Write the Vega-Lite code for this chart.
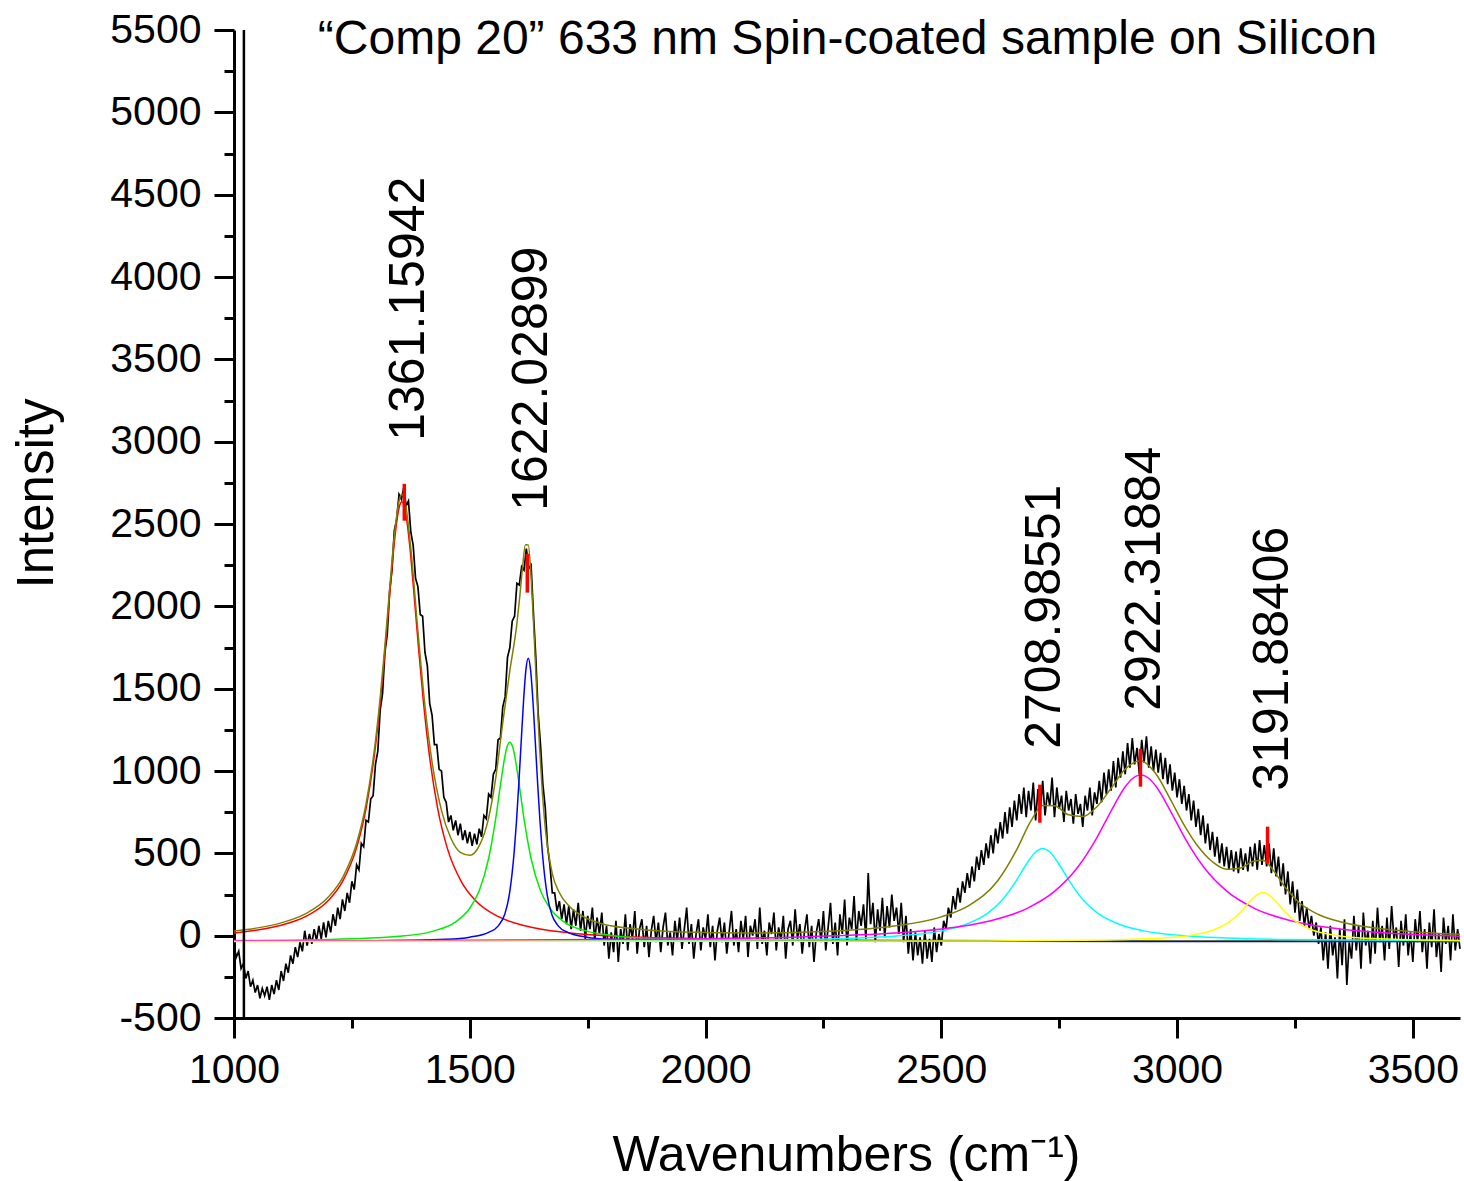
{
"$schema": "https://vega.github.io/schema/vega-lite/v6.json",
"width": 1226, "height": 988,
"autosize": {"type": "none"},
"padding": {"left": 234, "top": 30, "right": 4, "bottom": 163},
"background": "white",
"config": {"view": {"stroke": null}, "axis": {"domainColor": "black", "tickColor": "black", "labelColor": "black", "titleColor": "black", "grid": false, "labelFont": "Liberation Sans", "titleFont": "Liberation Sans", "titleFontWeight": "normal"}},
"data": {"values": [{"d": 0}]},
"datasets": {
"spec": [
{"x":1000,"y":-60},{"x":1005,"y":-130},{"x":1010,"y":-95},{"x":1015,"y":-200},{"x":1020,"y":-170},{"x":1025,"y":-260},{"x":1030,"y":-215},{"x":1035,"y":-310},{"x":1040,"y":-270},{"x":1045,"y":-345},{"x":1050,"y":-300},{"x":1055,"y":-380},{"x":1060,"y":-320},{"x":1065,"y":-365},{"x":1070,"y":-310},{"x":1075,"y":-390},{"x":1080,"y":-300},{"x":1085,"y":-355},{"x":1090,"y":-270},{"x":1095,"y":-330},
{"x":1100,"y":-215},{"x":1105,"y":-275},{"x":1110,"y":-170},{"x":1115,"y":-225},{"x":1120,"y":-120},{"x":1125,"y":-170},{"x":1130,"y":-70},{"x":1135,"y":-130},{"x":1140,"y":-40},{"x":1145,"y":-95},{"x":1150,"y":30},{"x":1155,"y":-60},{"x":1160,"y":10},{"x":1165,"y":-50},{"x":1170,"y":40},{"x":1175,"y":-30},{"x":1180,"y":60},{"x":1185,"y":-20},{"x":1190,"y":80},{"x":1195,"y":-10},
{"x":1200,"y":90},{"x":1205,"y":20},{"x":1210,"y":130},{"x":1215,"y":60},{"x":1220,"y":170},{"x":1225,"y":100},{"x":1230,"y":220},{"x":1235,"y":150},{"x":1240,"y":260},{"x":1245,"y":200},{"x":1250,"y":330},{"x":1255,"y":280},{"x":1260,"y":430},{"x":1265,"y":400},{"x":1270,"y":560},{"x":1275,"y":540},{"x":1280,"y":700},{"x":1285,"y":690},{"x":1290,"y":830},{"x":1295,"y":850},
{"x":1300,"y":1040},{"x":1305,"y":1120},{"x":1310,"y":1370},{"x":1315,"y":1470},{"x":1320,"y":1720},{"x":1325,"y":1830},{"x":1330,"y":2090},{"x":1335,"y":2220},{"x":1340,"y":2460},{"x":1345,"y":2530},{"x":1350,"y":2680},{"x":1355,"y":2650},{"x":1360,"y":2720},{"x":1365,"y":2610},{"x":1370,"y":2640},{"x":1375,"y":2450},{"x":1380,"y":2370},{"x":1385,"y":2170},{"x":1390,"y":2120},{"x":1395,"y":1950},
{"x":1400,"y":1940},{"x":1405,"y":1720},{"x":1410,"y":1640},{"x":1415,"y":1410},{"x":1420,"y":1340},{"x":1425,"y":1160},{"x":1430,"y":1160},{"x":1435,"y":1010},{"x":1440,"y":1000},{"x":1445,"y":840},{"x":1450,"y":810},{"x":1455,"y":690},{"x":1460,"y":730},{"x":1465,"y":640},{"x":1470,"y":700},{"x":1475,"y":610},{"x":1480,"y":680},{"x":1485,"y":580},{"x":1490,"y":640},{"x":1495,"y":560},
{"x":1500,"y":630},{"x":1505,"y":545},{"x":1510,"y":620},{"x":1515,"y":555},{"x":1520,"y":650},{"x":1525,"y":600},{"x":1530,"y":730},{"x":1535,"y":710},{"x":1540,"y":860},{"x":1545,"y":840},{"x":1550,"y":980},{"x":1555,"y":1010},{"x":1560,"y":1190},{"x":1565,"y":1200},{"x":1570,"y":1390},{"x":1575,"y":1450},{"x":1580,"y":1690},{"x":1585,"y":1750},{"x":1590,"y":1910},{"x":1595,"y":1940},
{"x":1600,"y":2140},{"x":1605,"y":2130},{"x":1610,"y":2240},{"x":1615,"y":2220},{"x":1620,"y":2350},{"x":1625,"y":2230},{"x":1630,"y":2250},{"x":1635,"y":1960},{"x":1640,"y":1690},{"x":1645,"y":1350},{"x":1650,"y":1160},{"x":1655,"y":920},{"x":1660,"y":780},{"x":1665,"y":540},{"x":1670,"y":430},{"x":1675,"y":260},{"x":1680,"y":260},{"x":1685,"y":150},{"x":1690,"y":210},{"x":1695,"y":100},
{"x":1700,"y":190},{"x":1705,"y":70},{"x":1710,"y":180},{"x":1715,"y":40},{"x":1720,"y":160},{"x":1725,"y":60},{"x":1730,"y":200},{"x":1735,"y":30},{"x":1740,"y":150},{"x":1745,"y":-20},{"x":1750,"y":120},{"x":1755,"y":40},{"x":1760,"y":170},{"x":1765,"y":-30},{"x":1770,"y":110},{"x":1775,"y":10},{"x":1780,"y":140},{"x":1785,"y":-60},{"x":1790,"y":60},{"x":1795,"y":-140},
{"x":1800,"y":20},{"x":1805,"y":-100},{"x":1810,"y":90},{"x":1815,"y":-160},{"x":1820,"y":40},{"x":1825,"y":-50},{"x":1830,"y":130},{"x":1835,"y":-90},{"x":1840,"y":70},{"x":1845,"y":-20},{"x":1850,"y":150},{"x":1855,"y":-110},{"x":1860,"y":40},{"x":1865,"y":100},{"x":1870,"y":-70},{"x":1875,"y":60},{"x":1880,"y":-130},{"x":1885,"y":30},{"x":1890,"y":120},{"x":1895,"y":-40},
{"x":1900,"y":80},{"x":1905,"y":-100},{"x":1910,"y":50},{"x":1915,"y":140},{"x":1920,"y":-60},{"x":1925,"y":20},{"x":1930,"y":-120},{"x":1935,"y":90},{"x":1940,"y":-30},{"x":1945,"y":110},{"x":1950,"y":-80},{"x":1955,"y":40},{"x":1960,"y":170},{"x":1965,"y":-50},{"x":1970,"y":70},{"x":1975,"y":-140},{"x":1980,"y":10},{"x":1985,"y":100},{"x":1990,"y":-90},{"x":1995,"y":50},
{"x":2000,"y":-20},{"x":2005,"y":130},{"x":2010,"y":-70},{"x":2015,"y":60},{"x":2020,"y":-150},{"x":2025,"y":30},{"x":2030,"y":110},{"x":2035,"y":-40},{"x":2040,"y":80},{"x":2045,"y":-110},{"x":2050,"y":20},{"x":2055,"y":150},{"x":2060,"y":-60},{"x":2065,"y":40},{"x":2070,"y":-100},{"x":2075,"y":90},{"x":2080,"y":-20},{"x":2085,"y":120},{"x":2090,"y":-130},{"x":2095,"y":60},
{"x":2100,"y":0},{"x":2105,"y":100},{"x":2110,"y":-80},{"x":2115,"y":170},{"x":2120,"y":-50},{"x":2125,"y":30},{"x":2130,"y":-120},{"x":2135,"y":80},{"x":2140,"y":10},{"x":2145,"y":140},{"x":2150,"y":-90},{"x":2155,"y":50},{"x":2160,"y":-30},{"x":2165,"y":120},{"x":2170,"y":-140},{"x":2175,"y":40},{"x":2180,"y":90},{"x":2185,"y":-60},{"x":2190,"y":160},{"x":2195,"y":-20},
{"x":2200,"y":70},{"x":2205,"y":-110},{"x":2210,"y":30},{"x":2215,"y":130},{"x":2220,"y":-70},{"x":2225,"y":60},{"x":2230,"y":-160},{"x":2235,"y":20},{"x":2240,"y":100},{"x":2245,"y":-40},{"x":2250,"y":150},{"x":2255,"y":-90},{"x":2260,"y":50},{"x":2265,"y":200},{"x":2270,"y":-50},{"x":2275,"y":80},{"x":2280,"y":-120},{"x":2285,"y":130},{"x":2290,"y":10},{"x":2295,"y":220},
{"x":2300,"y":-60},{"x":2305,"y":110},{"x":2310,"y":40},{"x":2315,"y":240},{"x":2320,"y":-30},{"x":2325,"y":150},{"x":2330,"y":60},{"x":2335,"y":190},{"x":2340,"y":-20},{"x":2345,"y":380},{"x":2350,"y":70},{"x":2355,"y":200},{"x":2360,"y":-40},{"x":2365,"y":160},{"x":2370,"y":30},{"x":2375,"y":230},{"x":2380,"y":-10},{"x":2385,"y":180},{"x":2390,"y":50},{"x":2395,"y":250},
{"x":2400,"y":90},{"x":2405,"y":170},{"x":2410,"y":10},{"x":2415,"y":200},{"x":2420,"y":-40},{"x":2425,"y":120},{"x":2430,"y":-110},{"x":2435,"y":40},{"x":2440,"y":-150},{"x":2445,"y":20},{"x":2450,"y":-120},{"x":2455,"y":-10},{"x":2460,"y":-170},{"x":2465,"y":30},{"x":2470,"y":-140},{"x":2475,"y":-20},{"x":2480,"y":-160},{"x":2485,"y":50},{"x":2490,"y":-100},{"x":2495,"y":10},
{"x":2500,"y":-60},{"x":2505,"y":90},{"x":2510,"y":40},{"x":2515,"y":170},{"x":2520,"y":110},{"x":2525,"y":240},{"x":2530,"y":160},{"x":2535,"y":290},{"x":2540,"y":200},{"x":2545,"y":330},{"x":2550,"y":260},{"x":2555,"y":380},{"x":2560,"y":290},{"x":2565,"y":420},{"x":2570,"y":330},{"x":2575,"y":480},{"x":2580,"y":400},{"x":2585,"y":520},{"x":2590,"y":430},{"x":2595,"y":560},
{"x":2600,"y":470},{"x":2605,"y":610},{"x":2610,"y":500},{"x":2615,"y":650},{"x":2620,"y":560},{"x":2625,"y":690},{"x":2630,"y":590},{"x":2635,"y":750},{"x":2640,"y":620},{"x":2645,"y":780},{"x":2650,"y":660},{"x":2655,"y":820},{"x":2660,"y":700},{"x":2665,"y":860},{"x":2670,"y":740},{"x":2675,"y":900},{"x":2680,"y":720},{"x":2685,"y":880},{"x":2690,"y":760},{"x":2695,"y":930},
{"x":2700,"y":700},{"x":2705,"y":890},{"x":2710,"y":760},{"x":2715,"y":940},{"x":2720,"y":730},{"x":2725,"y":870},{"x":2730,"y":790},{"x":2735,"y":960},{"x":2740,"y":720},{"x":2745,"y":900},{"x":2750,"y":770},{"x":2755,"y":850},{"x":2760,"y":690},{"x":2765,"y":880},{"x":2770,"y":760},{"x":2775,"y":830},{"x":2780,"y":680},{"x":2785,"y":860},{"x":2790,"y":740},{"x":2795,"y":800},
{"x":2800,"y":660},{"x":2805,"y":850},{"x":2810,"y":760},{"x":2815,"y":900},{"x":2820,"y":730},{"x":2825,"y":870},{"x":2830,"y":800},{"x":2835,"y":940},{"x":2840,"y":810},{"x":2845,"y":990},{"x":2850,"y":860},{"x":2855,"y":1010},{"x":2860,"y":880},{"x":2865,"y":1060},{"x":2870,"y":900},{"x":2875,"y":1080},{"x":2880,"y":960},{"x":2885,"y":1120},{"x":2890,"y":980},{"x":2895,"y":1170},
{"x":2900,"y":1020},{"x":2905,"y":1200},{"x":2910,"y":1040},{"x":2915,"y":1140},{"x":2920,"y":980},{"x":2925,"y":1190},{"x":2930,"y":1050},{"x":2935,"y":1210},{"x":2940,"y":1020},{"x":2945,"y":1150},{"x":2950,"y":1000},{"x":2955,"y":1130},{"x":2960,"y":990},{"x":2965,"y":1110},{"x":2970,"y":950},{"x":2975,"y":1080},{"x":2980,"y":920},{"x":2985,"y":1040},{"x":2990,"y":880},{"x":2995,"y":990},
{"x":3000,"y":840},{"x":3005,"y":950},{"x":3010,"y":800},{"x":3015,"y":910},{"x":3020,"y":760},{"x":3025,"y":860},{"x":3030,"y":700},{"x":3035,"y":820},{"x":3040,"y":660},{"x":3045,"y":770},{"x":3050,"y":610},{"x":3055,"y":730},{"x":3060,"y":560},{"x":3065,"y":680},{"x":3070,"y":520},{"x":3075,"y":630},{"x":3080,"y":480},{"x":3085,"y":600},{"x":3090,"y":440},{"x":3095,"y":560},
{"x":3100,"y":420},{"x":3105,"y":540},{"x":3110,"y":400},{"x":3115,"y":520},{"x":3120,"y":390},{"x":3125,"y":510},{"x":3130,"y":380},{"x":3135,"y":530},{"x":3140,"y":400},{"x":3145,"y":500},{"x":3150,"y":390},{"x":3155,"y":540},{"x":3160,"y":420},{"x":3165,"y":560},{"x":3170,"y":400},{"x":3175,"y":580},{"x":3180,"y":430},{"x":3185,"y":550},{"x":3190,"y":420},{"x":3195,"y":560},
{"x":3200,"y":380},{"x":3205,"y":530},{"x":3210,"y":360},{"x":3215,"y":480},{"x":3220,"y":300},{"x":3225,"y":440},{"x":3230,"y":250},{"x":3235,"y":390},{"x":3240,"y":190},{"x":3245,"y":330},{"x":3250,"y":140},{"x":3255,"y":280},{"x":3260,"y":90},{"x":3265,"y":210},{"x":3270,"y":60},{"x":3275,"y":170},{"x":3280,"y":40},{"x":3285,"y":120},{"x":3290,"y":0},{"x":3295,"y":80},
{"x":3300,"y":-50},{"x":3305,"y":50},{"x":3310,"y":-150},{"x":3315,"y":20},{"x":3320,"y":-200},{"x":3325,"y":60},{"x":3330,"y":-120},{"x":3335,"y":-10},{"x":3340,"y":-260},{"x":3345,"y":40},{"x":3350,"y":-180},{"x":3355,"y":100},{"x":3360,"y":-300},{"x":3365,"y":-40},{"x":3370,"y":-140},{"x":3375,"y":120},{"x":3380,"y":-90},{"x":3385,"y":60},{"x":3390,"y":-200},{"x":3395,"y":140},
{"x":3400,"y":-60},{"x":3405,"y":30},{"x":3410,"y":-170},{"x":3415,"y":90},{"x":3420,"y":-110},{"x":3425,"y":170},{"x":3430,"y":-40},{"x":3435,"y":60},{"x":3440,"y":-150},{"x":3445,"y":110},{"x":3450,"y":-80},{"x":3455,"y":180},{"x":3460,"y":-20},{"x":3465,"y":50},{"x":3470,"y":-190},{"x":3475,"y":90},{"x":3480,"y":-60},{"x":3485,"y":130},{"x":3490,"y":-120},{"x":3495,"y":20},
{"x":3500,"y":-160},{"x":3505,"y":100},{"x":3510,"y":-40},{"x":3515,"y":150},{"x":3520,"y":-100},{"x":3525,"y":40},{"x":3530,"y":-200},{"x":3535,"y":80},{"x":3540,"y":-70},{"x":3545,"y":160},{"x":3550,"y":-130},{"x":3555,"y":10},{"x":3560,"y":-220},{"x":3565,"y":110},{"x":3570,"y":-50},{"x":3575,"y":60},{"x":3580,"y":-150},{"x":3585,"y":130},{"x":3590,"y":-90},{"x":3595,"y":40},{"x":3600,"y":-80}
],
"comp": [
{"s":"red","x":1000,"y":16.7},{"s":"red","x":1050,"y":34.4},{"s":"red","x":1100,"y":63.1},{"s":"red","x":1150,"y":113.6},{"s":"red","x":1200,"y":213.8},{"s":"red","x":1230,"y":328.3},{"s":"red","x":1260,"y":534.8},{"s":"red","x":1280,"y":771.6},{"s":"red","x":1300,"y":1149.6},{"s":"red","x":1310,"y":1411.4},{"s":"red","x":1320,"y":1723.9},{"s":"red","x":1330,"y":2066.7},{"s":"red","x":1340,"y":2387},{"s":"red","x":1348,"y":2568.4},{"s":"red","x":1352,"y":2618},{"s":"red","x":1356,"y":2635},{"s":"red","x":1360,"y":2618},{"s":"red","x":1364,"y":2568.4},{"s":"red","x":1372,"y":2387},{"s":"red","x":1382,"y":2066.7},{"s":"red","x":1392,"y":1723.9},{"s":"red","x":1402,"y":1411.4},{"s":"red","x":1412,"y":1149.6},{"s":"red","x":1432,"y":771.6},{"s":"red","x":1452,"y":534.8},{"s":"red","x":1482,"y":328.3},{"s":"red","x":1512,"y":213.8},{"s":"red","x":1562,"y":113.6},{"s":"red","x":1612,"y":63.1},{"s":"red","x":1662,"y":34.4},{"s":"red","x":1712,"y":16.7},{"s":"red","x":1800,"y":-1.6},{"s":"red","x":1900,"y":-12.6},{"s":"red","x":2000,"y":-19},{"s":"red","x":2200,"y":-25.7},{"s":"red","x":2500,"y":-29.9},{"s":"red","x":3000,"y":-32.5},{"s":"red","x":3600,"y":-33.7},
{"s":"green","x":1000,"y":-29.9},{"s":"green","x":1200,"y":-23.3},{"s":"green","x":1350,"y":-4.2},{"s":"green","x":1420,"y":26},{"s":"green","x":1470,"y":84},{"s":"green","x":1500,"y":166.6},{"s":"green","x":1520,"y":273},{"s":"green","x":1540,"y":468.7},{"s":"green","x":1555,"y":710.5},{"s":"green","x":1565,"y":912.5},{"s":"green","x":1575,"y":1096.6},{"s":"green","x":1580,"y":1154.4},{"s":"green","x":1585,"y":1175},{"s":"green","x":1590,"y":1154.4},{"s":"green","x":1595,"y":1096.6},{"s":"green","x":1605,"y":912.5},{"s":"green","x":1615,"y":710.5},{"s":"green","x":1630,"y":468.7},{"s":"green","x":1650,"y":273},{"s":"green","x":1670,"y":166.6},{"s":"green","x":1700,"y":84},{"s":"green","x":1750,"y":26},{"s":"green","x":1800,"y":1.7},{"s":"green","x":1900,"y":-17.6},{"s":"green","x":2100,"y":-28.5},{"s":"green","x":2500,"y":-32.9},{"s":"green","x":3000,"y":-34.1},{"s":"green","x":3600,"y":-34.7},
{"s":"blue","x":1000,"y":-34},{"s":"blue","x":1300,"y":-31},{"s":"blue","x":1450,"y":-21.5},{"s":"blue","x":1500,"y":-9},{"s":"blue","x":1540,"y":20},{"s":"blue","x":1560,"y":58},{"s":"blue","x":1574,"y":128},{"s":"blue","x":1584,"y":251},{"s":"blue","x":1594,"y":502},{"s":"blue","x":1599,"y":692},{"s":"blue","x":1604,"y":921},{"s":"blue","x":1609,"y":1175},{"s":"blue","x":1614,"y":1424},{"s":"blue","x":1619,"y":1613},{"s":"blue","x":1624,"y":1685},{"s":"blue","x":1629,"y":1613},{"s":"blue","x":1634,"y":1424},{"s":"blue","x":1639,"y":1175},{"s":"blue","x":1644,"y":921},{"s":"blue","x":1649,"y":692},{"s":"blue","x":1654,"y":502},{"s":"blue","x":1664,"y":251},{"s":"blue","x":1674,"y":128},{"s":"blue","x":1688,"y":58},{"s":"blue","x":1708,"y":20},{"s":"blue","x":1748,"y":-9},{"s":"blue","x":1798,"y":-21.5},{"s":"blue","x":1948,"y":-31},{"s":"blue","x":2300,"y":-34},{"s":"blue","x":3600,"y":-35},
{"s":"cyan","x":1000,"y":-33.9},{"s":"cyan","x":1800,"y":-31},{"s":"cyan","x":2200,"y":-22.7},{"s":"cyan","x":2400,"y":-3.2},{"s":"cyan","x":2500,"y":29.1},{"s":"cyan","x":2550,"y":65.9},{"s":"cyan","x":2600,"y":139.6},{"s":"cyan","x":2630,"y":219.2},{"s":"cyan","x":2660,"y":338.5},{"s":"cyan","x":2680,"y":432.4},{"s":"cyan","x":2700,"y":508.4},{"s":"cyan","x":2715,"y":529},{"s":"cyan","x":2730,"y":508.4},{"s":"cyan","x":2750,"y":432.4},{"s":"cyan","x":2770,"y":338.5},{"s":"cyan","x":2800,"y":219.2},{"s":"cyan","x":2830,"y":139.6},{"s":"cyan","x":2880,"y":65.9},{"s":"cyan","x":2930,"y":29.1},{"s":"cyan","x":3030,"y":-3.2},{"s":"cyan","x":3230,"y":-22.7},{"s":"cyan","x":3600,"y":-30.8},
{"s":"magenta","x":1000,"y":-31.1},{"s":"magenta","x":1500,"y":-27.9},{"s":"magenta","x":2000,"y":-18.2},{"s":"magenta","x":2200,"y":-7.9},{"s":"magenta","x":2400,"y":15.5},{"s":"magenta","x":2500,"y":40.2},{"s":"magenta","x":2600,"y":87.5},{"s":"magenta","x":2680,"y":163},{"s":"magenta","x":2740,"y":268.7},{"s":"magenta","x":2790,"y":418.3},{"s":"magenta","x":2830,"y":596},{"s":"magenta","x":2860,"y":756.8},{"s":"magenta","x":2890,"y":904},{"s":"magenta","x":2905,"y":952.8},{"s":"magenta","x":2923,"y":975},{"s":"magenta","x":2941,"y":952.8},{"s":"magenta","x":2956,"y":904},{"s":"magenta","x":2986,"y":756.8},{"s":"magenta","x":3016,"y":596},{"s":"magenta","x":3056,"y":418.3},{"s":"magenta","x":3106,"y":268.7},{"s":"magenta","x":3166,"y":163},{"s":"magenta","x":3246,"y":87.5},{"s":"magenta","x":3346,"y":40.2},{"s":"magenta","x":3446,"y":15.5},{"s":"magenta","x":3600,"y":-4.2},
{"s":"yellow","x":1000,"y":-34.8},{"s":"yellow","x":2000,"y":-34.3},{"s":"yellow","x":2600,"y":-32.1},{"s":"yellow","x":2800,"y":-28.3},{"s":"yellow","x":2950,"y":-17.5},{"s":"yellow","x":3030,"y":2.7},{"s":"yellow","x":3080,"y":37.6},{"s":"yellow","x":3110,"y":81.9},{"s":"yellow","x":3135,"y":144.2},{"s":"yellow","x":3155,"y":209.1},{"s":"yellow","x":3170,"y":249.8},{"s":"yellow","x":3182,"y":262},{"s":"yellow","x":3194,"y":249.8},{"s":"yellow","x":3209,"y":209.1},{"s":"yellow","x":3229,"y":144.2},{"s":"yellow","x":3254,"y":81.9},{"s":"yellow","x":3284,"y":37.6},{"s":"yellow","x":3334,"y":2.7},{"s":"yellow","x":3414,"y":-17.5},{"s":"yellow","x":3600,"y":-29.4},
{"s":"sum","x":1000,"y":28},{"s":"sum","x":1050,"y":47.3},{"s":"sum","x":1100,"y":77.8},{"s":"sum","x":1150,"y":130.6},{"s":"sum","x":1200,"y":234.3},{"s":"sum","x":1230,"y":351.3},{"s":"sum","x":1260,"y":561},{"s":"sum","x":1280,"y":800.5},{"s":"sum","x":1300,"y":1181.7},{"s":"sum","x":1310,"y":1445},{"s":"sum","x":1320,"y":1760},{"s":"sum","x":1330,"y":2104.8},{"s":"sum","x":1340,"y":2427.6},{"s":"sum","x":1350,"y":2640},{"s":"sum","x":1356,"y":2680},{"s":"sum","x":1365,"y":2599.6},{"s":"sum","x":1375,"y":2350.5},{"s":"sum","x":1390,"y":1850},{"s":"sum","x":1405,"y":1394.7},{"s":"sum","x":1420,"y":1055.4},{"s":"sum","x":1440,"y":761},{"s":"sum","x":1460,"y":591.6},{"s":"sum","x":1480,"y":505.9},{"s":"sum","x":1500,"y":488},{"s":"sum","x":1520,"y":544.8},{"s":"sum","x":1540,"y":715.4},{"s":"sum","x":1555,"y":957},{"s":"sum","x":1570,"y":1294},{"s":"sum","x":1585,"y":1609.5},{"s":"sum","x":1600,"y":1896.8},{"s":"sum","x":1606,"y":2059},{"s":"sum","x":1612,"y":2237.7},{"s":"sum","x":1618,"y":2374},{"s":"sum","x":1624,"y":2373},{"s":"sum","x":1630,"y":2180},{"s":"sum","x":1636,"y":1850.3},{"s":"sum","x":1642,"y":1481},{"s":"sum","x":1648,"y":1141.8},{"s":"sum","x":1654,"y":865.6},{"s":"sum","x":1660,"y":659.5},{"s":"sum","x":1675,"y":376.8},{"s":"sum","x":1690,"y":260.8},{"s":"sum","x":1710,"y":181.8},{"s":"sum","x":1740,"y":117.6},{"s":"sum","x":1780,"y":72.9},{"s":"sum","x":1850,"y":42},{"s":"sum","x":1950,"y":22.2},{"s":"sum","x":2100,"y":16.2},{"s":"sum","x":2250,"y":25.8},{"s":"sum","x":2400,"y":58.6},{"s":"sum","x":2500,"y":114.3},{"s":"sum","x":2560,"y":185.8},{"s":"sum","x":2620,"y":335},{"s":"sum","x":2660,"y":522.2},{"s":"sum","x":2690,"y":696.6},{"s":"sum","x":2715,"y":791.2},{"s":"sum","x":2740,"y":789.2},{"s":"sum","x":2770,"y":734},{"s":"sum","x":2800,"y":723.5},{"s":"sum","x":2830,"y":783.3},{"s":"sum","x":2860,"y":894.8},{"s":"sum","x":2890,"y":1011.3},{"s":"sum","x":2923,"y":1061.5},{"s":"sum","x":2955,"y":983},{"s":"sum","x":2985,"y":832.4},{"s":"sum","x":3015,"y":671.8},{"s":"sum","x":3045,"y":539.7},{"s":"sum","x":3075,"y":448.9},{"s":"sum","x":3105,"y":403.2},{"s":"sum","x":3135,"y":411},{"s":"sum","x":3160,"y":450.4},{"s":"sum","x":3182,"y":458.7},{"s":"sum","x":3205,"y":393.4},{"s":"sum","x":3230,"y":290.6},{"s":"sum","x":3260,"y":198.4},{"s":"sum","x":3300,"y":128.3},{"s":"sum","x":3350,"y":81.5},{"s":"sum","x":3420,"y":46.5},{"s":"sum","x":3500,"y":24.2},{"s":"sum","x":3600,"y":7.9}
],
"peaks": [
{"x":1361.15942,"lo":2520,"hi":2744,"ly":3005,"label":"1361.15942"},
{"x":1622.02899,"lo":2083,"hi":2319,"ly":2580,"label":"1622.02899"},
{"x":2708.98551,"lo":686,"hi":917,"ly":1135,"label":"2708.98551"},
{"x":2922.31884,"lo":905,"hi":1135,"ly":1366,"label":"2922.31884"},
{"x":3191.88406,"lo":437,"hi":662,"ly":880,"label":"3191.88406"}
]
},
"layer": [
{"data": {"name": "spec"}, "mark": {"type": "line", "color": "black", "strokeWidth": 1.7},
 "encoding": {
  "x": {"field": "x", "type": "quantitative", "scale": {"domain": [1000, 3600], "nice": false, "zero": false},
   "axis": {"orient": "bottom", "values": [1000, 1500, 2000, 2500, 3000, 3500], "labelExpr": "'' + datum.value", "tickSize": 20, "tickWidth": 3, "domainWidth": 3, "labelFontSize": 41, "labelPadding": 12, "labelFlush": false, "labelOverlap": false, "title": "Wavenumbers (cm⁻¹)", "titleFontSize": 50, "titleX": 612, "titleY": 152, "titleAlign": "center", "titleBaseline": "alphabetic"}},
  "y": {"field": "y", "type": "quantitative", "scale": {"domain": [-500, 5500], "nice": false, "zero": false},
   "axis": {"orient": "left", "values": [-500, 0, 500, 1000, 1500, 2000, 2500, 3000, 3500, 4000, 4500, 5000, 5500], "labelExpr": "'' + datum.value", "tickSize": 20, "tickWidth": 3, "domainWidth": 3, "labelFontSize": 41, "labelPadding": 13, "labelFlush": false, "labelOverlap": false, "title": "Intensity", "titleFontSize": 51, "titleX": -182, "titleY": 463, "titleAngle": 270, "titleAlign": "center", "titleBaseline": "alphabetic"}}
 }},
{"data": {"name": "comp"}, "mark": {"type": "line", "strokeWidth": 1.5, "interpolate": "monotone"},
 "encoding": {
  "x": {"field": "x", "type": "quantitative", "axis": {"orient": "bottom", "values": [1250, 1750, 2250, 2750, 3250], "tickSize": 10, "tickWidth": 3, "labels": false, "domain": false, "title": null}},
  "y": {"field": "y", "type": "quantitative", "axis": {"orient": "left", "values": [-250, 250, 750, 1250, 1750, 2250, 2750, 3250, 3750, 4250, 4750, 5250], "tickSize": 10, "tickWidth": 3, "labels": false, "domain": false, "title": null}},
  "color": {"field": "s", "type": "nominal", "scale": {"domain": ["red", "green", "blue", "cyan", "magenta", "yellow", "sum"], "range": ["#ff0000", "#00ee00", "#0000ff", "#00ffff", "#ff00ff", "#ffff00", "#808000"]}, "legend": null}
 }},
{"data": {"name": "peaks"}, "mark": {"type": "rule", "color": "#ff0000", "strokeWidth": 3.5},
 "encoding": {"x": {"field": "x", "type": "quantitative", "axis": null}, "y": {"field": "lo", "type": "quantitative", "axis": null}, "y2": {"field": "hi"}}},
{"data": {"name": "peaks"}, "mark": {"type": "text", "angle": 270, "align": "left", "baseline": "alphabetic", "dy": 20, "fontSize": 50, "font": "Liberation Sans", "color": "black"},
 "encoding": {"x": {"field": "x", "type": "quantitative", "axis": null}, "y": {"field": "ly", "type": "quantitative", "axis": null}, "text": {"field": "label"}}},
{"mark": {"type": "rule", "color": "black", "strokeWidth": 2.5},
 "encoding": {"x": {"datum": 1021, "type": "quantitative", "axis": null}}},
{"mark": {"type": "text", "fontSize": 48, "font": "Liberation Sans", "color": "black", "align": "center", "baseline": "alphabetic"},
 "encoding": {"x": {"datum": 2301, "type": "quantitative", "axis": null}, "y": {"datum": 5355, "type": "quantitative", "axis": null}, "text": {"value": "“Comp 20” 633 nm Spin-coated sample on Silicon"}}}
],
"resolve": {"axis": {"x": "independent", "y": "independent"}}
}
